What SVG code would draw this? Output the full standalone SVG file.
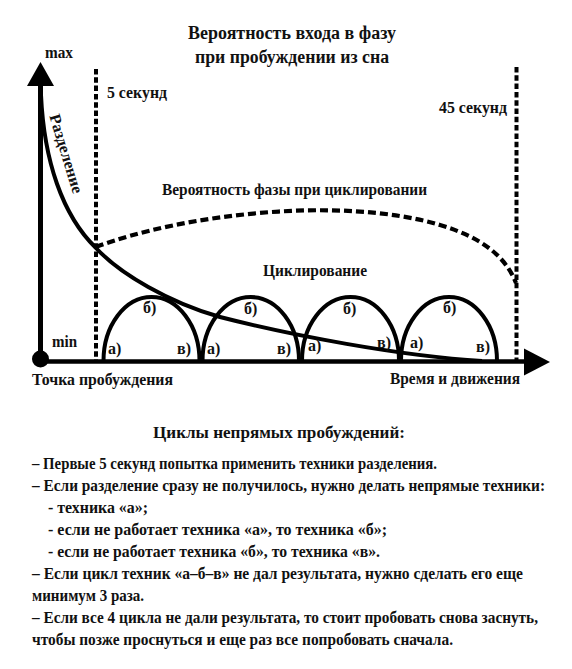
<svg xmlns="http://www.w3.org/2000/svg" width="572" height="669" viewBox="0 0 572 669">
<style>
text{font-family:"Liberation Serif","Times New Roman","DejaVu Serif",serif;font-weight:bold;fill:#111}
.t{font-size:18px}
.l{font-size:16px}
.s{font-size:16px}
.b{font-size:16px}
.ln{fill:none;stroke:#000;stroke-width:4}
.dash{fill:none;stroke:#000;stroke-width:4;stroke-dasharray:5.5 2.8}
.dcurve{fill:none;stroke:#000;stroke-width:4.2;stroke-dasharray:8 4}
</style>
<rect width="572" height="669" fill="#fff"/>
<g id="title">
<text class="t" x="188" y="39" textLength="208" lengthAdjust="spacingAndGlyphs">Вероятность входа в фазу</text>
<text class="t" x="195" y="63" textLength="194" lengthAdjust="spacingAndGlyphs">при пробуждении из сна</text>
</g>
<g id="axes">
<line x1="40.5" y1="361.5" x2="40.5" y2="84" stroke="#000" stroke-width="5"/>
<polygon points="40.5,62 27,86 54,86" fill="#000"/>
<line x1="40" y1="361.5" x2="526" y2="361.5" stroke="#000" stroke-width="4.5"/>
<polygon points="524,348.5 550,362 524,375.5" fill="#000"/>
<circle cx="40.5" cy="359" r="8.5" fill="#000"/>
<text class="l" x="45" y="58" textLength="28" lengthAdjust="spacingAndGlyphs">max</text>
<text class="l" x="52" y="347" textLength="25" lengthAdjust="spacingAndGlyphs">min</text>
<text class="l" x="32" y="385" textLength="141" lengthAdjust="spacingAndGlyphs">Точка пробуждения</text>
<text class="l" x="390" y="384" textLength="130" lengthAdjust="spacingAndGlyphs">Время и движения</text>
</g>
<g id="time-marks">
<line class="dash" x1="96" y1="69" x2="96" y2="360"/>
<line class="dash" x1="516.5" y1="67" x2="516.5" y2="360"/>
<text class="l" x="107" y="98" textLength="60" lengthAdjust="spacingAndGlyphs">5 секунд</text>
<text class="l" x="439" y="113" textLength="68" lengthAdjust="spacingAndGlyphs">45 секунд</text>
</g>
<g id="connectors">
<path id="separation-curve" class="ln" d="M41,95 C44,160 62,215 96,248 C120,274 170,303 220,317 C290,335 400,356 482,361"/>
<path id="cycle-probability" class="dcurve" d="M96,247 C180,215 340,195 440,225 C480,237 505,255 516,283"/>
</g>
<g id="curve-labels">
<text class="l" x="0" y="4" text-anchor="middle" transform="translate(65,154) rotate(73)" textLength="82" lengthAdjust="spacingAndGlyphs">Разделение</text>
<text class="l" x="162" y="195" textLength="265" lengthAdjust="spacingAndGlyphs">Вероятность фазы при циклировании</text>
<text class="l" x="263" y="276" textLength="104" lengthAdjust="spacingAndGlyphs">Циклирование</text>
</g>
<g id="cycle-1">
<path class="ln" d="M103.5,361 A48,64 0 0 1 199.5,361"/>
<text class="s" x="143" y="313">б)</text>
<text class="s" x="108" y="354">а)</text>
<text class="s" x="177" y="354">в)</text>
</g>
<g id="cycle-2">
<path class="ln" d="M202.5,361 A48.25,64 0 0 1 299,361"/>
<text class="s" x="244" y="314">б)</text>
<text class="s" x="207" y="354">а)</text>
<text class="s" x="277" y="354">в)</text>
</g>
<g id="cycle-3">
<path class="ln" d="M302,361 A48.5,64 0 0 1 399,361"/>
<text class="s" x="343" y="314">б)</text>
<text class="s" x="308" y="351">а)</text>
<text class="s" x="377" y="348">в)</text>
</g>
<g id="cycle-4">
<path class="ln" d="M401,361 A48,64 0 0 1 497,361"/>
<text class="s" x="443" y="313">б)</text>
<text class="s" x="410" y="348">а)</text>
<text class="s" x="476" y="352">в)</text>
</g>
<g id="notes">
<text class="b" x="153" y="438" font-size="17.5" textLength="252" lengthAdjust="spacingAndGlyphs">Циклы непрямых пробуждений:</text>
<text class="b" x="32" y="469" textLength="405" lengthAdjust="spacingAndGlyphs">– Первые 5 секунд попытка применить техники разделения.</text>
<text class="b" x="32" y="491" textLength="513" lengthAdjust="spacingAndGlyphs">– Если разделение сразу не получилось, нужно делать непрямые техники:</text>
<text class="b" x="48" y="513" textLength="100" lengthAdjust="spacingAndGlyphs">- техника «а»;</text>
<text class="b" x="48" y="535" textLength="339" lengthAdjust="spacingAndGlyphs">- если не работает техника «а», то техника «б»;</text>
<text class="b" x="48" y="557" textLength="332" lengthAdjust="spacingAndGlyphs">- если не работает техника «б», то техника «в».</text>
<text class="b" x="32" y="579" textLength="491" lengthAdjust="spacingAndGlyphs">– Если цикл техник «а–б–в» не дал результата, нужно сделать его еще</text>
<text class="b" x="32" y="601" textLength="112" lengthAdjust="spacingAndGlyphs">минимум 3 раза.</text>
<text class="b" x="32" y="623" textLength="506" lengthAdjust="spacingAndGlyphs">– Если все 4 цикла не дали результата, то стоит пробовать снова заснуть,</text>
<text class="b" x="32" y="645" textLength="421" lengthAdjust="spacingAndGlyphs">чтобы позже проснуться и еще раз все попробовать сначала.</text>
</g>
</svg>
